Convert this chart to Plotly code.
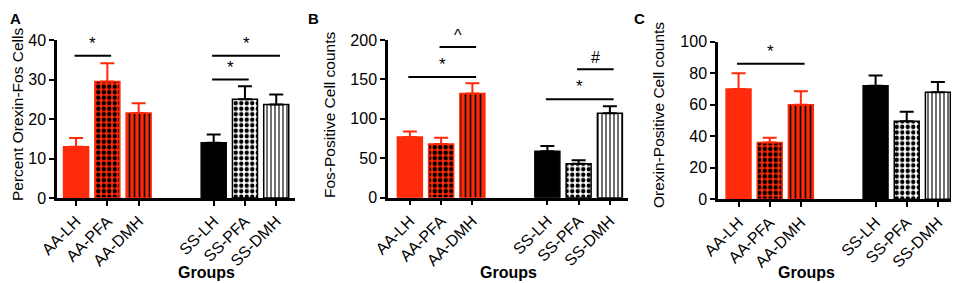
import plotly.graph_objects as go

# ---------------- data ----------------
groups = ["AA-LH", "AA-PFA", "AA-DMH", "SS-LH", "SS-PFA", "SS-DMH"]

pct_mean = [13.0, 29.5, 21.5, 14.0, 25.0, 23.7]
pct_sem = [2.2, 4.6, 2.5, 2.1, 3.3, 2.5]

fos_mean = [77, 68, 132, 59, 43, 107]
fos_sem = [7, 8, 13, 6.5, 4.5, 9]

orx_mean = [70, 36, 60, 72, 49.5, 68]
orx_sem = [10, 3, 8.5, 6.5, 6, 6.5]

y_titles = ["Percent Orexin-Fos Cells", "Fos-Positive Cell counts", "Orexin-Positive Cell counts"]
panel_letters = ["A", "B", "C"]
y_ticks = [[0, 10, 20, 30, 40], [0, 50, 100, 150, 200], [0, 20, 40, 60, 80, 100]]
x_title = "Groups"

# significance brackets: (from group, to group, height, label)
sig_A = [("AA-LH", "AA-PFA", 36, "*"), ("SS-LH", "SS-DMH", 36, "*"), ("SS-LH", "SS-PFA", 30, "*")]
sig_B = [("AA-LH", "AA-DMH", 153, "*"), ("AA-PFA", "AA-DMH", 191, "^"),
         ("SS-LH", "SS-DMH", 125, "*"), ("SS-PFA", "SS-DMH", 163, "#")]
sig_C = [("AA-LH", "AA-DMH", 86, "*")]

# ---------------- styling / layout ----------------
RED = "#ff2a0a"
FONT = "Arial, Liberation Sans, sans-serif"
OFF = 8                      # page body margin of the html page
W, H = 959 - OFF, 283 - OFF  # figure size so it fits the window


def xp(px):
    return (px - OFF) / W


def yp(py):
    return 1 - (py - OFF) / H


gap = 1.4
pos = [i + (gap if i >= 3 else 0) for i in range(len(groups))]

panels = [
    dict(mean=pct_mean, sem=pct_sem, sig=sig_A, xdom=(57, 295), xr=(-0.61, 7.0), ydom=(198, 40)),
    dict(mean=fos_mean, sem=fos_sem, sig=sig_B, xdom=(388, 628), xr=(-0.70, 6.98), ydom=(197.7, 40)),
    dict(mean=orx_mean, sem=orx_sem, sig=sig_C, xdom=(718, 955), xr=(-0.66, 6.95), ydom=(199.3, 41.7)),
]

shapes_p = ["", ".", "|", "", ".", "|"]
bg_p = [RED, RED, RED, "black", "white", "white"]
fg_p = [RED, "black", "black", "black", "black", "black"]
line_p = [RED, RED, RED, "black", "black", "black"]
size_p = [8, 5.5, 5, 8, 5.5, 4]
sol_p = [0.3, 0.5, 0.33, 0.3, 0.5, 0.28]

fig = go.Figure()
annotations = []
layout_axes = {}

for k, p in enumerate(panels):
    sfx = "" if k == 0 else str(k + 1)
    xa, ya = "x" + sfx, "y" + sfx
    for i in range(len(groups)):
        fig.add_trace(go.Bar(
            x=[pos[i]],
            y=[p["mean"][i]],
            width=0.8,
            xaxis=xa, yaxis=ya,
            marker=dict(
                color=bg_p[i],
                line=dict(color=line_p[i], width=1.5),
                pattern=dict(
                    shape=shapes_p[i],
                    bgcolor=bg_p[i],
                    fgcolor=fg_p[i],
                    fgopacity=1,
                    size=size_p[i],
                    solidity=sol_p[i],
                    fillmode="overlay",
                ),
            ),
            error_y=dict(type="data", symmetric=False,
                         array=[p["sem"][i]], arrayminus=[0],
                         color=line_p[i], thickness=2, width=7),
            showlegend=False,
            hoverinfo="skip",
        ))
    # significance brackets
    for g0, g1, h, lab in p["sig"]:
        x0 = pos[groups.index(g0)] - 0.05
        x1 = pos[groups.index(g1)] + 0.12
        fig.add_trace(go.Scatter(
            x=[x0, x1], y=[h, h], mode="lines",
            line=dict(color="black", width=2),
            xaxis=xa, yaxis=ya, showlegend=False, hoverinfo="skip", cliponaxis=False,
        ))
        annotations.append(dict(
            x=(x0 + x1) / 2, y=h, xref=xa, yref=ya, text=lab, showarrow=False,
            yanchor="bottom", yshift=1,
            font=dict(family=FONT, size=17 if lab == "*" else 16, color="black"),
        ))

    layout_axes["xaxis" + sfx] = dict(
        domain=[xp(p["xdom"][0]), xp(p["xdom"][1])], range=list(p["xr"]), anchor=ya,
        tickvals=pos, ticktext=groups, tickangle=-45, automargin=False,
        showline=True, linecolor="black", linewidth=2.5,
        ticks="outside", ticklen=5, tickwidth=2, tickcolor="black",
        showgrid=False, zeroline=False,
        tickfont=dict(family=FONT, size=16, color="black"),
    )
    layout_axes["yaxis" + sfx] = dict(
        domain=[yp(p["ydom"][0]), yp(p["ydom"][1])], range=[0, y_ticks[k][-1]], anchor=xa,
        tickvals=y_ticks[k], automargin=False,
        showline=True, linecolor="black", linewidth=2.5,
        ticks="outside", ticklen=5, tickwidth=2, tickcolor="black",
        showgrid=False, zeroline=False,
        tickfont=dict(family=FONT, size=16, color="black"),
    )
    # x title
    annotations.append(dict(
        x=(xp(p["xdom"][0]) + xp(p["xdom"][1])) / 2, y=yp(272), xref="paper", yref="paper",
        text="<b>" + x_title + "</b>", showarrow=False, yanchor="middle",
        font=dict(family=FONT, size=16, color="black"),
    ))

# y titles
ytitle_x = [17, 329, 658]
for k in range(3):
    annotations.append(dict(
        x=xp(ytitle_x[k]), y=yp(115), xref="paper", yref="paper",
        text=y_titles[k], textangle=-90, showarrow=False,
        xanchor="center", yanchor="middle",
        font=dict(family=FONT, size=15.5, color="black"),
    ))

# panel letters
letter_x = [15, 313, 639]
for k in range(3):
    annotations.append(dict(
        x=xp(letter_x[k]), y=1, xref="paper", yref="paper",
        text="<b>" + panel_letters[k] + "</b>", showarrow=False,
        xanchor="center", yanchor="top",
        font=dict(family=FONT, size=15, color="black"),
    ))

fig.update_layout(
    width=W, height=H,
    margin=dict(l=0, r=0, t=0, b=0, autoexpand=False),
    paper_bgcolor="white", plot_bgcolor="white",
    barmode="overlay",
    annotations=annotations,
    **layout_axes,
)

fig.write_html("out.html")
